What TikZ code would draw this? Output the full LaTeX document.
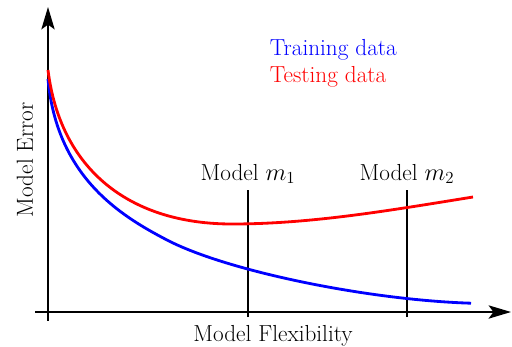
\documentclass[tikz,border=0pt]{standalone}
\usetikzlibrary{arrows.meta}
\begin{document}
\begin{tikzpicture}[>={Stealth[length=16pt,width=9.5pt,inset=3.5pt]},font=\fontsize{16.5}{20}\selectfont]
    \useasboundingbox (-1.2,-0.85) rectangle (11.6,7.8);
    \coordinate (xstart) at (-0.325,0);
    \coordinate (xend) at (11.575,0);
    \coordinate (ystart) at (0,-0.22);
    \coordinate (yend) at (0,7.625);
    \draw[line width=1pt,->] (xstart) -- (xend);
    \draw[line width=1pt,->] (ystart) -- (yend);
    \node[below=0.2cm] (xlabel) at (5.625,0) {Model Flexibility};
    \node[rotate=90] (ylabel) at (-0.58,3.81) {Model Error};
    \coordinate (m1bot) at (5,-0.125);
    \coordinate (m1top) at (5,3.05);
    \coordinate (m2bot) at (8.975,-0.125);
    \coordinate (m2top) at (8.975,3.05);
    \draw[line width=0.9pt] (m1bot) -- (m1top);
    \draw[line width=0.9pt] (m2bot) -- (m2top);
    \node[anchor=base] (m1) at (5,3.3) {Model $m_1$};
    \node[anchor=base] (m2) at (8.975,3.3) {Model $m_2$};
    \draw[line width=2pt,blue] (0,5.825) .. controls (0.22,3.4) and (1.775,2.424) ..
    (2.975,1.8) .. controls (4.475,1.02) and (8,0.3) .. (10.575,0.22);
    \draw[line width=2pt,red] (0,6.05) .. controls (0.3,3.6) and (2,2.2) ..
    (4.6,2.2) .. controls (6.6,2.2) and (8.6,2.55) .. (10.625,2.875);
    \node[blue,anchor=base west] (train) at (5.425,6.425) {Training data};
    \node[red,anchor=base west] (test) at (5.425,5.75) {Testing data};
  \end{tikzpicture}
\end{document}
